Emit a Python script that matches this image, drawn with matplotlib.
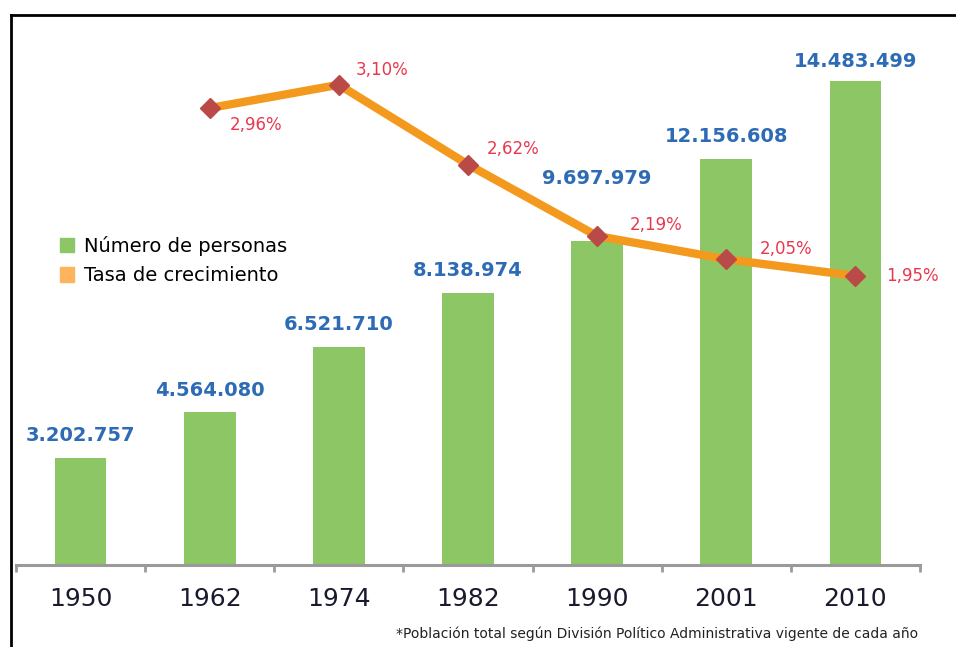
import matplotlib.pyplot as plt
from matplotlib.patches import Patch
from matplotlib.lines import Line2D

# datos
years = ["1950", "1962", "1974", "1982", "1990", "2001", "2010"]
personas = [3202757, 4564080, 6521710, 8138974, 9697979, 12156608, 14483499]
personas_lbl = ["3.202.757", "4.564.080", "6.521.710", "8.138.974",
                "9.697.979", "12.156.608", "14.483.499"]
tasa_years = ["1962", "1974", "1982", "1990", "2001", "2010"]
tasa = [2.96, 3.10, 2.62, 2.19, 2.05, 1.95]
tasa_lbl = ["2,96%", "3,10%", "2,62%", "2,19%", "2,05%", "1,95%"]

# label offsets (points above bar / pixels for the rate labels)
bar_off = [9, 9, 9, 9, 38, 9, 7]
tasa_off = [(20, -17), (17, 15), (19, 16), (33, 11), (33, 10), (31, 0)]

green = "#8cc665"
orange = "#f39a1e"
orange_leg = "#fdb45c"
marker_c = "#b94a48"
blue = "#2e6bb5"
red = "#e8384f"
gray = "#9a9a9a"

W, H = 956, 647
fig = plt.figure(figsize=(W / 100, H / 100), dpi=100)
ax = fig.add_axes([16 / W, (H - 565) / H, (920 - 16) / W, 550 / H])

x = list(range(len(years)))
ax.bar(x, personas, width=0.40, color=green, zorder=2)
ax.set_xlim(-0.5, len(years) - 0.5)
ax.set_ylim(0, 16.45e6)

for xi, v, lbl, off in zip(x, personas, personas_lbl, bar_off):
    ax.annotate(lbl, (xi, v), xytext=(0, off), textcoords="offset points",
                ha="center", va="bottom", color=blue, fontsize=14,
                fontweight="bold")

for s in ["top", "left", "right"]:
    ax.spines[s].set_visible(False)
ax.spines["bottom"].set_color(gray)
ax.spines["bottom"].set_linewidth(2.2)
ax.set_yticks([])
ax.set_xticks(x)
ax.set_xticklabels(years, fontsize=18, color="#1a1a2e")
ax.tick_params(axis="x", which="major", length=0, pad=16)
ax.set_xticks([i - 0.5 for i in range(len(years) + 1)], minor=True)
ax.tick_params(axis="x", which="minor", length=5, width=2, color=gray,
               direction="out")

# tasa de crecimiento
ax2 = ax.twinx()
ax2.set_ylim(0.21, 3.52)
ax2.axis("off")
tx = [years.index(y) for y in tasa_years]
ax2.plot(tx, tasa, color=orange, lw=6, solid_capstyle="butt", zorder=3)
ax2.plot(tx, tasa, ls="none", marker="D", ms=10, color=marker_c, zorder=4)
for xi, v, lbl, (dx, dy) in zip(tx, tasa, tasa_lbl, tasa_off):
    ax2.annotate(lbl, (xi, v), xytext=(dx * 0.72, dy * 0.72),
                 textcoords="offset points", ha="left", va="center",
                 color=red, fontsize=12)

# leyenda
handles = [Patch(color=green), Patch(color=orange_leg)]
leg = fig.legend(handles, ["Número de personas", "Tasa de crecimiento"],
                 loc="upper left", bbox_to_anchor=(42 / W, 1 - 218 / H),
                 frameon=False, fontsize=14, handlelength=0.75,
                 handleheight=0.75, handletextpad=0.5, labelspacing=0.55)

# nota
fig.text(918 / W, 1 - 634 / H,
         "*Población total según División Político Administrativa vigente de cada año",
         ha="right", va="center", fontsize=10, color="#222222")

# marco
fig.add_artist(Line2D([11 / W, 1], [1 - 15 / H, 1 - 15 / H], color="black", lw=2))
fig.add_artist(Line2D([11 / W, 11 / W], [0, 1 - 15 / H], color="black", lw=2))

fig.savefig("out.png", dpi=100)
